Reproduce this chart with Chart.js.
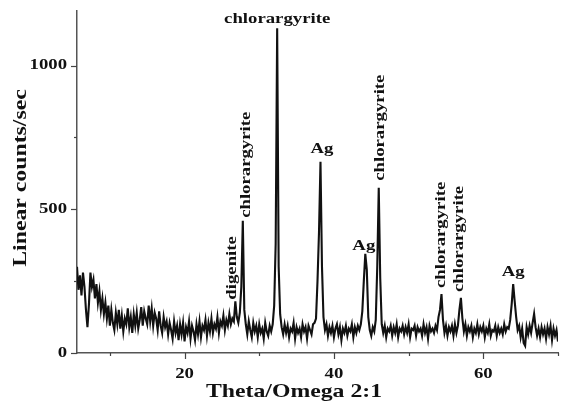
<!DOCTYPE html>
<html>
<head>
<meta charset="utf-8">
<script src="https://cdn.jsdelivr.net/npm/chart.js@4.4.0/dist/chart.umd.min.js"></script>
<style>
  html, body { margin: 0; padding: 0; background: #fff; }
  #wrap { width: 561px; height: 408px; }
</style>
</head>
<body>
<div id="wrap"><canvas id="xrd"></canvas></div>
<script>
// 2theta grid: 5.6 .. 70.0 deg, 0.2 deg step
const thetaStart = 5.6;
const thetaStep = 0.2;

// intensity (counts/sec), 10 points per row
const counts = [
  300,220,270,200,280,230,150,90,170,280,
  230,255,190,240,175,215,150,190,135,175,
  120,165,95,150,105,80,140,100,150,85,
  130,75,120,100,155,90,125,70,135,95,
  140,85,115,160,95,145,120,100,165,110,
  155,95,140,120,80,145,95,70,125,90,
  110,65,105,80,50,110,70,95,45,100,
  65,105,40,90,70,110,50,95,75,45,
  100,65,110,55,95,80,115,60,105,75,
  120,70,100,85,125,70,110,95,130,80,
  115,95,135,100,120,110,180,125,105,140,
  230,460,150,100,65,110,80,55,105,75,
  95,55,100,70,85,50,105,75,60,95,
  75,100,165,380,1130,300,135,90,65,100,
  70,95,55,85,75,105,50,90,70,85,
  55,100,75,90,50,95,80,65,100,105,
  120,250,420,665,300,125,80,100,60,90,
  70,95,55,85,100,65,90,45,85,70,
  95,60,85,75,100,55,90,70,95,80,
  100,145,250,345,290,125,80,60,90,75,
  115,300,575,260,100,70,95,55,85,75,
  95,60,90,70,100,55,85,75,95,65,
  90,70,100,55,85,80,95,60,90,75,
  85,60,100,70,90,50,95,75,85,70,
  95,80,125,150,205,115,70,95,60,90,
  75,95,60,100,70,95,150,192,120,75,
  100,60,90,75,95,55,85,70,100,65,
  90,75,95,55,85,70,100,60,80,75,
  95,60,90,70,85,65,100,75,90,85,
  115,170,240,180,125,80,95,55,85,35,
  25,90,65,95,70,105,136,90,60,85,
  55,90,65,85,50,90,65,95,45,85,
  60,80,40
];

const xTicks = [10, 20, 30, 40, 50, 60, 70];
const xLabelled = [20, 40, 60];
const yTicks = [0, 250, 500, 750, 1000];
const yLabelled = [0, 500, 1000];

// phase labels: text, anchor (theta, counts), vertical or not
const labelText  = ['digenite', 'chlorargyrite', 'chlorargyrite', 'Ag', 'Ag', 'chlorargyrite', 'chlorargyrite', 'chlorargyrite', 'Ag'];
const labelTheta = [26.4, 28.2, 32.4, 38.4, 44.0, 46.2, 54.4, 56.7, 64.0];
const labelCount = [296, 655, 1160, 711, 373, 784, 411, 397, 282];
const labelVert  = [true, true, false, false, false, true, true, true, false];

const serif = '"Liberation Serif", "DejaVu Serif", serif';
const stretch = 1.25; // the scanned lettering is wide

const points = counts.map((c, i) => ({ x: +(thetaStart + i * thetaStep).toFixed(1), y: c }));

function wideText(ctx, text, x, y, vertical) {
  ctx.save();
  ctx.translate(x, y);
  if (vertical) ctx.rotate(-Math.PI / 2);
  ctx.scale(stretch, 1);
  ctx.fillText(text, 0, 0);
  ctx.restore();
}

const annotate = {
  id: 'annotate',
  afterDatasetsDraw(chart) {
    const { ctx, scales: { x, y } } = chart;
    const { left, bottom } = chart.chartArea;
    ctx.save();
    ctx.fillStyle = '#111';
    ctx.textBaseline = 'middle';

    ctx.font = 'bold 15px ' + serif;
    ctx.textAlign = 'center';
    for (let i = 0; i < labelText.length; i++) {
      wideText(ctx, labelText[i], x.getPixelForValue(labelTheta[i]), y.getPixelForValue(labelCount[i]), labelVert[i]);
    }

    // tick marks, outward, major longer
    ctx.strokeStyle = '#444';
    ctx.lineWidth = 1.2;
    xTicks.forEach(v => {
      const px = Math.round(x.getPixelForValue(v)) + 0.5;
      const len = xLabelled.includes(v) ? 6 : 3;
      ctx.beginPath(); ctx.moveTo(px, bottom); ctx.lineTo(px, bottom + len); ctx.stroke();
    });
    yTicks.forEach(v => {
      const py = Math.round(y.getPixelForValue(v)) + 0.5;
      const len = yLabelled.includes(v) ? 6 : 3;
      ctx.beginPath(); ctx.moveTo(left, py); ctx.lineTo(left - len, py); ctx.stroke();
    });

    // tick labels
    ctx.font = 'bold 15px ' + serif;
    ctx.textAlign = 'center';
    xLabelled.forEach(v => wideText(ctx, String(v), x.getPixelForValue(v), 374, false));
    ctx.textAlign = 'right';
    yLabelled.forEach(v => wideText(ctx, String(v), left - 10, y.getPixelForValue(v), false));

    // axis titles
    ctx.font = 'bold 19px ' + serif;
    ctx.textAlign = 'center';
    wideText(ctx, 'Theta/Omega 2:1', 294, 392, false);
    wideText(ctx, 'Linear counts/sec', 21, 178, true);
    ctx.restore();
  }
};

const config = {
  type: 'line',
  data: {
    datasets: [{
      data: points,
      borderColor: '#111',
      borderWidth: 2.1,
      pointRadius: 0,
      tension: 0,
      fill: false
    }]
  },
  options: {
    responsive: true,
    maintainAspectRatio: false,
    animation: false,
    events: [],
    layout: { padding: { top: 11, right: 3, left: 0, bottom: 0 } },
    plugins: { legend: { display: false }, tooltip: { enabled: false } },
    scales: {
      x: {
        type: 'linear',
        min: 5.6,
        max: 70,
        afterBuildTicks: s => { s.ticks = xTicks.map(v => ({ value: v })); },
        afterFit: s => { s.height = 55; },
        grid: { display: false },
        border: { display: true, color: '#555', width: 1.5 },
        ticks: { display: false }
      },
      y: {
        min: 0,
        max: 1190,
        afterBuildTicks: s => { s.ticks = yTicks.map(v => ({ value: v })); },
        afterFit: s => { s.width = 77; },
        grid: { display: false },
        border: { display: true, color: '#555', width: 1.5 },
        ticks: { display: false }
      }
    }
  },
  plugins: [annotate]
};

const xrdChart = new Chart(document.getElementById('xrd'), config);
</script>
</body>
</html>
